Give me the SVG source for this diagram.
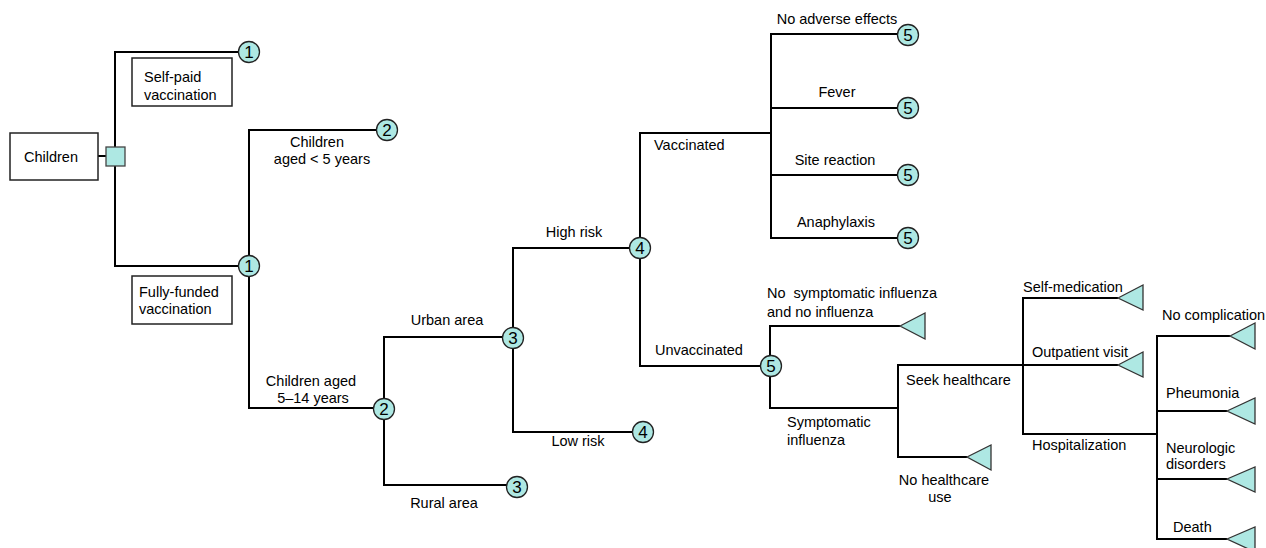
<svg xmlns="http://www.w3.org/2000/svg" width="1266" height="548" viewBox="0 0 1266 548">
<style>
.l{fill:none;stroke:#000;stroke-width:2;stroke-linejoin:miter}
.c{fill:#aee8e3;stroke:#222;stroke-width:1.3}
.t{fill:#aee8e3;stroke:#333;stroke-width:1.3}
.b{fill:#fff;stroke:#222;stroke-width:1.5}
text{font-family:"Liberation Sans",Arial,sans-serif;font-size:14.5px;fill:#000}
.n{font-size:17px;text-anchor:middle}
.m{text-anchor:middle}
</style>
<rect width="1266" height="548" fill="#fff"/>
<g id="connectors">
<path class="l" d="M98,156 H106"/>
<path class="l" d="M239,52 H115 V266 H239"/>
<path class="l" d="M377,130 H249 V408 H374"/>
<path class="l" d="M503,337 H384 V485 H507"/>
<path class="l" d="M630,248 H513 V432 H633"/>
<path class="l" d="M771,133 H640 V366 H761"/>
<path class="l" d="M898,34 H771 V238 H898"/>
<path class="l" d="M771,108 H898 M771,175 H898"/>
<path class="l" d="M900,326 H770 V408 H898"/>
<path class="l" d="M1023,365 H898 V457 H967"/>
<path class="l" d="M1118,298 H1023 V434 H1157 M1023,365 H1118"/>
<path class="l" d="M1230,336 H1157 V539 H1227 M1157,411 H1227 M1157,479 H1227"/>
</g>
<g id="n-children"><rect class="b" x="10" y="133" width="88" height="47"/><text x="51" y="162" class="m">Children</text></g>
<g id="n-decision"><rect x="106" y="147" width="19" height="19" fill="#aee8e3" stroke="#444" stroke-width="1.3"/></g>
<g id="n-selfpaid"><rect class="b" x="132" y="58" width="100" height="48"/><text x="144" y="82">Self-paid</text><text x="144" y="100">vaccination</text></g>
<g id="n-fullyfunded"><rect class="b" x="132" y="276" width="100" height="48"/><text x="139" y="297">Fully-funded</text><text x="139" y="314">vaccination</text></g>
<g id="c1a"><circle class="c" cx="249" cy="52" r="10.5"/><text class="n" x="249" y="58">1</text></g>
<g id="c1b"><circle class="c" cx="249" cy="266" r="10.5"/><text class="n" x="249" y="272">1</text></g>
<g id="c2a"><circle class="c" cx="387" cy="130" r="10.5"/><text class="n" x="387" y="136">2</text></g>
<g id="c2b"><circle class="c" cx="384" cy="409" r="10.5"/><text class="n" x="384" y="415">2</text></g>
<g id="c3a"><circle class="c" cx="513" cy="338" r="10.5"/><text class="n" x="513" y="344">3</text></g>
<g id="c3b"><circle class="c" cx="517" cy="487" r="10.5"/><text class="n" x="517" y="493">3</text></g>
<g id="c4a"><circle class="c" cx="640" cy="248" r="10.5"/><text class="n" x="640" y="254">4</text></g>
<g id="c4b"><circle class="c" cx="643" cy="432" r="10.5"/><text class="n" x="643" y="438">4</text></g>
<g id="c5a"><circle class="c" cx="908" cy="35" r="10.5"/><text class="n" x="908" y="41">5</text></g>
<g id="c5b"><circle class="c" cx="908" cy="108" r="10.5"/><text class="n" x="908" y="114">5</text></g>
<g id="c5c"><circle class="c" cx="908" cy="175" r="10.5"/><text class="n" x="908" y="181">5</text></g>
<g id="c5d"><circle class="c" cx="908" cy="238" r="10.5"/><text class="n" x="908" y="244">5</text></g>
<g id="c5e"><circle class="c" cx="771" cy="366" r="10.5"/><text class="n" x="771" y="372">5</text></g>
<g id="t-noinf"><polygon class="t" points="900,326 925,313 925,339"/></g>
<g id="t-nohc"><polygon class="t" points="967,457 991,445 991,470"/></g>
<g id="t-selfmed"><polygon class="t" points="1118,298 1143,285 1143,310"/></g>
<g id="t-outpat"><polygon class="t" points="1118,365 1143,352 1143,377"/></g>
<g id="t-nocomp"><polygon class="t" points="1230,336 1255,323 1255,349"/></g>
<g id="t-pneu"><polygon class="t" points="1227,411 1255,398 1255,424"/></g>
<g id="t-neuro"><polygon class="t" points="1227,479 1255,467 1255,492"/></g>
<g id="t-death"><polygon class="t" points="1227,539 1255,527 1255,552"/></g>
<g id="labels">
<text class="m" x="317" y="147">Children</text>
<text class="m" x="322" y="164">aged &lt; 5 years</text>
<text class="m" x="311" y="386">Children aged</text>
<text class="m" x="313" y="403">5–14 years</text>
<text class="m" x="447" y="325">Urban area</text>
<text class="m" x="444" y="508">Rural area</text>
<text class="m" x="574" y="237">High risk</text>
<text class="m" x="578" y="446">Low risk</text>
<text x="654" y="150">Vaccinated</text>
<text x="655" y="355">Unvaccinated</text>
<text class="m" x="837" y="24">No adverse effects</text>
<text class="m" x="837" y="97">Fever</text>
<text class="m" x="835" y="165">Site reaction</text>
<text class="m" x="836" y="227">Anaphylaxis</text>
<text x="767" y="298" xml:space="preserve">No  symptomatic influenza</text>
<text x="767" y="317">and no influenza</text>
<text x="787" y="427">Symptomatic</text>
<text x="787" y="445">influenza</text>
<text x="906" y="385">Seek healthcare</text>
<text class="m" x="944" y="485">No healthcare</text>
<text class="m" x="940" y="502">use</text>
<text x="1023" y="292">Self-medication</text>
<text x="1032" y="357">Outpatient visit</text>
<text x="1032" y="450">Hospitalization</text>
<text x="1162" y="320">No complication</text>
<text x="1166" y="398">Pheumonia</text>
<text x="1166" y="453">Neurologic</text>
<text x="1166" y="469">disorders</text>
<text x="1173" y="532">Death</text>
</g>
</svg>
